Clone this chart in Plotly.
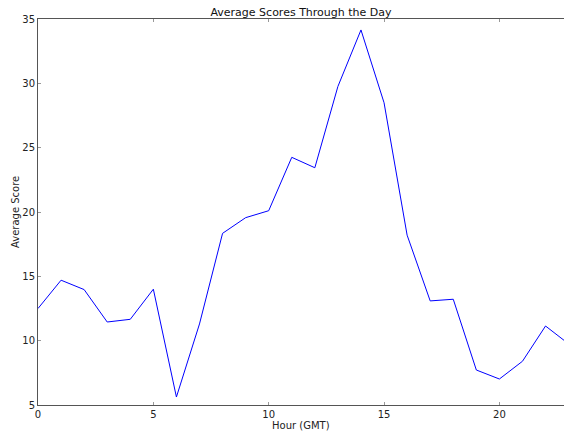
import plotly.graph_objects as go

hours = list(range(24))
avg_score = [12.5, 14.7, 13.97, 11.45, 11.66, 14.0, 5.62, 11.3, 18.34, 19.56,
             20.1, 24.25, 23.44, 29.76, 34.15, 28.49, 18.2, 13.09, 13.22, 7.72,
             7.02, 8.4, 11.14, 9.75]

x_ticks = [0, 5, 10, 15, 20]
y_ticks = [5, 10, 15, 20, 25, 30, 35]

fig = go.Figure()
fig.add_trace(go.Scatter(x=hours, y=avg_score, mode="lines",
                         line=dict(color="#0000ff", width=1), showlegend=False))

font = "DejaVu Sans, sans-serif"
W, H = 564, 431
L, R, T, B = 38, 0, 19, 26
fig.update_layout(
    width=W, height=H,
    margin=dict(l=L, r=R, t=T, b=B, autoexpand=False),
    paper_bgcolor="white", plot_bgcolor="white",
    font=dict(family=font, size=10, color="#222"),
    title=dict(text="Average Scores Through the Day", x=0.5,
               xanchor="center", xref="paper", y=1 - 12 / H, yanchor="middle",
               yref="container", font=dict(size=11, family=font, color="#111")),
    annotations=[
        dict(text="Hour (GMT)", xref="paper", yref="paper", x=0.5,
             y=-(425 - (H - B)) / (H - T - B), xanchor="center", yanchor="middle",
             showarrow=False, font=dict(size=10, family=font, color="#222")),
        dict(text="Average Score", xref="paper", yref="paper",
             x=-(L - 15) / (W - L - R), y=0.5, xanchor="center", yanchor="middle",
             textangle=-90, showarrow=False,
             font=dict(size=10, family=font, color="#222")),
    ],
)
fig.update_xaxes(range=[0, 22.8], tickvals=x_ticks, showgrid=False, zeroline=False,
                 showline=True, linecolor="#555", linewidth=1, mirror="ticks",
                 ticks="inside", ticklen=3, tickcolor="#999", automargin=False)
fig.update_yaxes(range=[5, 35], tickvals=y_ticks, showgrid=False, zeroline=False,
                 showline=True, linecolor="#555", linewidth=1, mirror=False,
                 ticks="inside", ticklen=3, tickcolor="#999", automargin=False)

fig.write_html("out.html", config={"displayModeBar": False},
               post_script="document.body.style.margin='0';")
